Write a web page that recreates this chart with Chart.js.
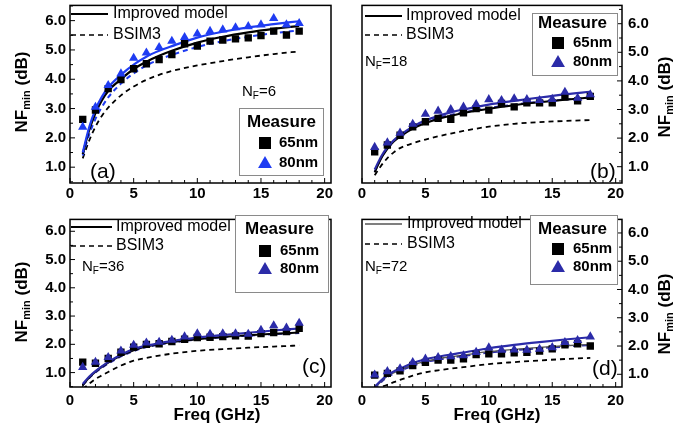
<!DOCTYPE html>
<html>
<head>
<meta charset="utf-8">
<script src="https://cdn.jsdelivr.net/npm/chart.js@4.4.0/dist/chart.umd.min.js"></script>
<style>
  body { margin: 0; background: #fff; }
  #wrap { position: relative; width: 690px; height: 428px; overflow: hidden; }
  .panel { position: absolute; width: 345px; height: 214px; }
</style>
</head>
<body>
<div id="wrap">
  <div class="panel" style="left:0;top:0"><canvas id="pa" width="345" height="214"></canvas></div>
  <div class="panel" style="left:345px;top:0"><canvas id="pb" width="345" height="214"></canvas></div>
  <div class="panel" style="left:0;top:214px"><canvas id="pc" width="345" height="214"></canvas></div>
  <div class="panel" style="left:345px;top:214px"><canvas id="pd" width="345" height="214"></canvas></div>
</div>
<script>
const FONT = '"Liberation Sans", Arial, sans-serif';

// measured frequencies (GHz) and the frequencies the model curves are read at
const freq = [1, 2, 3, 4, 5, 6, 7, 8, 9, 10, 11, 12, 13, 14, 15, 16, 17, 18];
const modelFreq = [1, 1.5, 2, 2.5, 3, 4, 5, 6, 7, 8, 10, 12, 14, 16, 18];

const xTicks = [0, 5, 10, 15, 20];
const yTicks = [1, 2, 3, 4, 5, 6];
const xMinor = [0, 1, 2, 3, 4, 5, 6, 7, 8, 9, 10, 11, 12, 13, 14, 15, 16, 17, 18, 19, 20];
const yMinor = [0.5, 1, 1.5, 2, 2.5, 3, 3.5, 4, 4.5, 5, 5.5, 6, 6.5];

// (a) NF=6
const measA65 = [2.63, 2.95, 3.68, 3.99, 4.36, 4.53, 4.67, 4.84, 5.21, 5.13, 5.30, 5.34, 5.38, 5.41, 5.49, 5.64, 5.51, 5.64];
const measA80 = [2.37, 3.05, 3.79, 4.19, 4.72, 4.90, 5.09, 5.30, 5.43, 5.55, 5.64, 5.69, 5.76, 5.80, 5.86, 6.08, 5.86, 5.91];
const imprA65 = [1.45, 2.25, 2.85, 3.28, 3.60, 4.00, 4.35, 4.60, 4.80, 4.97, 5.25, 5.45, 5.60, 5.72, 5.82];
const imprA80 = [1.50, 2.35, 2.97, 3.40, 3.72, 4.15, 4.50, 4.77, 4.97, 5.13, 5.42, 5.62, 5.77, 5.88, 5.98];
const bsimA65 = [1.30, 1.90, 2.38, 2.75, 3.03, 3.45, 3.75, 3.98, 4.15, 4.28, 4.47, 4.62, 4.75, 4.86, 4.95];
const bsimA80 = [1.40, 2.10, 2.65, 3.05, 3.38, 3.85, 4.20, 4.47, 4.67, 4.83, 5.10, 5.30, 5.45, 5.57, 5.67];

// (b) NF=18
const measB65 = [1.52, 1.76, 2.10, 2.39, 2.57, 2.69, 2.66, 2.88, 3.03, 2.98, 3.21, 3.09, 3.23, 3.23, 3.23, 3.44, 3.30, 3.46];
const measB80 = [1.68, 1.84, 2.18, 2.49, 2.84, 2.95, 3.00, 3.09, 3.18, 3.35, 3.32, 3.38, 3.35, 3.32, 3.36, 3.61, 3.40, 3.52];
const imprB65 = [0.80, 1.28, 1.62, 1.88, 2.05, 2.33, 2.53, 2.67, 2.78, 2.88, 3.03, 3.15, 3.25, 3.34, 3.42];
const imprB80 = [0.90, 1.35, 1.68, 1.92, 2.10, 2.40, 2.62, 2.77, 2.90, 3.00, 3.17, 3.30, 3.42, 3.53, 3.62];
const bsimB65 = [0.70, 1.03, 1.30, 1.50, 1.65, 1.82, 1.95, 2.06, 2.16, 2.25, 2.40, 2.50, 2.56, 2.60, 2.63];
const bsimB80 = [0.82, 1.30, 1.64, 1.90, 2.08, 2.37, 2.56, 2.70, 2.81, 2.90, 3.05, 3.17, 3.27, 3.35, 3.42];

// (c) NF=36
const measC65 = [1.37, 1.33, 1.50, 1.72, 1.90, 2.00, 2.02, 2.10, 2.18, 2.24, 2.25, 2.27, 2.30, 2.29, 2.38, 2.42, 2.45, 2.57];
const measC80 = [1.19, 1.37, 1.54, 1.77, 1.97, 2.05, 2.08, 2.15, 2.27, 2.38, 2.36, 2.38, 2.38, 2.36, 2.50, 2.66, 2.58, 2.75];
const imprC65 = [0.55, 0.82, 1.03, 1.20, 1.35, 1.60, 1.79, 1.92, 2.01, 2.08, 2.18, 2.26, 2.32, 2.37, 2.42];
const imprC80 = [0.60, 0.85, 1.05, 1.22, 1.37, 1.63, 1.83, 1.95, 2.04, 2.12, 2.24, 2.33, 2.41, 2.49, 2.56];
const bsimC65 = [0.42, 0.60, 0.77, 0.90, 1.02, 1.25, 1.42, 1.52, 1.60, 1.67, 1.77, 1.83, 1.88, 1.92, 1.96];
const bsimC80 = [0.55, 0.80, 1.00, 1.17, 1.32, 1.57, 1.76, 1.90, 1.99, 2.06, 2.17, 2.25, 2.31, 2.36, 2.40];

// (d) NF=72
const measD65 = [0.97, 1.03, 1.12, 1.31, 1.42, 1.50, 1.50, 1.55, 1.70, 1.72, 1.72, 1.76, 1.78, 1.82, 1.90, 2.04, 2.08, 2.00];
const measD80 = [0.98, 1.10, 1.20, 1.42, 1.54, 1.60, 1.63, 1.66, 1.78, 1.94, 1.86, 1.87, 1.86, 1.89, 1.95, 2.13, 2.20, 2.33];
const imprD65 = [0.50, 0.74, 0.93, 1.05, 1.15, 1.33, 1.46, 1.55, 1.62, 1.68, 1.80, 1.88, 1.95, 2.01, 2.06];
const imprD80 = [0.55, 0.78, 0.97, 1.10, 1.20, 1.40, 1.53, 1.62, 1.70, 1.77, 1.92, 2.04, 2.14, 2.23, 2.31];
const bsimD65 = [0.45, 0.55, 0.63, 0.72, 0.80, 0.95, 1.07, 1.14, 1.20, 1.25, 1.36, 1.43, 1.49, 1.54, 1.58];
const bsimD80 = [0.48, 0.72, 0.90, 1.02, 1.12, 1.30, 1.43, 1.52, 1.59, 1.65, 1.77, 1.85, 1.92, 1.98, 2.03];

const legendLabels = ['Improved model', 'BSIM3'];
const measureTitle = 'Measure';
const measureLabels = ['65nm', '80nm'];

// panel layout (local canvas px)
const panels = [
  { id: 'pa', nf: '6', letter: '(a)', blue: '#1f3cf2', solid65: '#000', solidW: 2.2,
    m65: measA65, m80: measA80, i65: imprA65, i80: imprA80, b65: bsimA65, b80: bsimA80,
    yMin: 0.46, yMax: 6.52, yPos: 'left', pad: { left: 0, right: 14, top: 5, bottom: 0 }, yW: 70, xH: 31, xPad: 2,
    leg: { x0: 71, x1: 108, tx: 113, y1: 14, y2: 35 }, nfAt: [242, 92],
    box: [239, 108, 84, 67], mTitle: [247, 122], mk: [265, 279, 143, 163], let: [90, 172],
    yTitle: [22, 92], xTitle: null },
  { id: 'pb', nf: '18', letter: '(b)', blue: '#2b2ba8', solid65: '#000', solidW: 2.0,
    m65: measB65, m80: measB80, i65: imprB65, i80: imprB80, b65: bsimB65, b80: bsimB80,
    yMin: 0.43, yMax: 6.64, yPos: 'right', pad: { left: 17, right: 0, top: 5, bottom: 0 }, yW: 68, xH: 31, xPad: 2,
    leg: { x0: 20, x1: 57, tx: 61, y1: 16, y2: 35 }, nfAt: [20, 62],
    box: [187, 13, 85, 62], mTitle: [193, 23], mk: [213, 228, 43, 62], let: [245, 172],
    yTitle: [320, 97], xTitle: null },
  { id: 'pc', nf: '36', letter: '(c)', blue: '#2b2ba8', solid65: '#000', solidW: 2.0,
    m65: measC65, m80: measC80, i65: imprC65, i80: imprC80, b65: bsimC65, b80: bsimC80,
    yMin: 0.49, yMax: 6.42, yPos: 'left', pad: { left: 0, right: 14, top: 1, bottom: 0 }, yW: 70, xH: 41, xPad: 5,
    leg: { x0: 71, x1: 112, tx: 116, y1: 13, y2: 32 }, nfAt: [82, 53],
    box: [235, 1, 93, 77], mTitle: [245, 15], mk: [265, 280, 37, 55], let: [302, 153],
    yTitle: [22, 88], xTitle: [217, 201] },
  { id: 'pd', nf: '72', letter: '(d)', blue: '#2b2ba8', solid65: '#555', solidW: 1.3,
    m65: measD65, m80: measD80, i65: imprD65, i80: imprD80, b65: bsimD65, b80: bsimD80,
    yMin: 0.55, yMax: 6.48, yPos: 'right', pad: { left: 17, right: 0, top: 1, bottom: 0 }, yW: 68, xH: 41, xPad: 5,
    leg: { x0: 20, x1: 57, tx: 62, y1: 10, y2: 30 }, nfAt: [20, 53],
    box: [185, 1, 87, 69], mTitle: [193, 15], mk: [213, 228, 35, 53], let: [247, 155],
    yTitle: [320, 100], xTitle: [152, 201] }
];

function pts(xs, ys) { return xs.map((x, i) => ({ x, y: ys[i] })); }

function drawParts(ctx, x, y, parts) {
  // parts: [text, font, dy]
  let cx = x;
  parts.forEach(([t, f, dy]) => { ctx.font = f; ctx.fillText(t, cx, y + dy); cx += ctx.measureText(t).width; });
}
function partsWidth(ctx, parts) {
  let w = 0;
  parts.forEach(([t, f]) => { ctx.font = f; w += ctx.measureText(t).width; });
  return w;
}
function marker(ctx, style, x, y, r, color) {
  ctx.fillStyle = color;
  ctx.beginPath();
  if (style === 'rect') {
    const s = r / Math.SQRT2;
    ctx.rect(x - s, y - s, 2 * s, 2 * s);
  } else {
    ctx.moveTo(x, y - r);
    ctx.lineTo(x + r * 0.866, y + r * 0.5);
    ctx.lineTo(x - r * 0.866, y + r * 0.5);
    ctx.closePath();
  }
  ctx.fill();
}

function decor(p) {
  return {
    id: 'decor',
    afterDraw(chart) {
      const ctx = chart.ctx, a = chart.chartArea;
      const xs = chart.scales.x, ys = chart.scales.y;
      ctx.save();
      ctx.strokeStyle = '#000';
      ctx.lineWidth = 1.5;
      ctx.strokeRect(a.left, a.top, a.right - a.left, a.bottom - a.top);

      ctx.lineWidth = 1;
      xMinor.forEach(v => {
        const px = xs.getPixelForValue(v);
        const len = xTicks.includes(v) ? 5 : 3;
        ctx.beginPath(); ctx.moveTo(px, a.bottom); ctx.lineTo(px, a.bottom - len); ctx.stroke();
      });
      const edge = p.yPos === 'left' ? a.left : a.right;
      const dir = p.yPos === 'left' ? 1 : -1;
      yMinor.forEach(v => {
        const py = ys.getPixelForValue(v);
        if (py < a.top || py > a.bottom) return;
        const len = yTicks.includes(v) ? 5 : 3;
        ctx.beginPath(); ctx.moveTo(edge, py); ctx.lineTo(edge + dir * len, py); ctx.stroke();
      });

      ctx.fillStyle = '#000';
      ctx.textBaseline = 'middle';
      ctx.textAlign = 'left';

      // model legend
      const L = p.leg;
      ctx.lineWidth = p.solidW;
      ctx.strokeStyle = p.solid65;
      ctx.beginPath(); ctx.moveTo(L.x0, L.y1); ctx.lineTo(L.x1, L.y1); ctx.stroke();
      ctx.strokeStyle = '#000';
      ctx.lineWidth = 1.6;
      ctx.setLineDash([5, 4]);
      ctx.beginPath(); ctx.moveTo(L.x0, L.y2); ctx.lineTo(L.x1, L.y2); ctx.stroke();
      ctx.setLineDash([]);
      ctx.font = '16px ' + FONT;
      ctx.fillText(legendLabels[0], L.tx, L.y1);
      ctx.fillText(legendLabels[1], L.tx, L.y2);

      // N_F label
      drawParts(ctx, p.nfAt[0], p.nfAt[1], [
        ['N', '15px ' + FONT, 0], ['F', '10px ' + FONT, 4], ['=' + p.nf, '15px ' + FONT, 0]
      ]);

      // measure box
      const [bx, by, bw, bh] = p.box;
      ctx.fillStyle = '#fff';
      ctx.fillRect(bx, by, bw, bh);
      ctx.strokeStyle = '#8a8a8a';
      ctx.lineWidth = 1;
      ctx.strokeRect(bx + 0.5, by + 0.5, bw, bh);
      ctx.fillStyle = '#000';
      ctx.font = 'bold 17px ' + FONT;
      ctx.fillText(measureTitle, p.mTitle[0], p.mTitle[1]);
      const [mx, tx, y65, y80] = p.mk;
      marker(ctx, 'rect', mx, y65, 8.5, '#000');
      marker(ctx, 'triangle', mx, y80 + 1, 8, p.blue);
      ctx.fillStyle = '#000';
      ctx.font = 'bold 15px ' + FONT;
      ctx.fillText(measureLabels[0], tx, y65);
      ctx.fillText(measureLabels[1], tx, y80);

      // panel letter
      ctx.font = '21px ' + FONT;
      ctx.fillText(p.letter, p.let[0], p.let[1]);

      // y title
      const tparts = [
        ['NF', 'bold 17px ' + FONT, 0], ['min', 'bold 11px ' + FONT, 5], [' (dB)', 'bold 17px ' + FONT, 0]
      ];
      const w = partsWidth(ctx, tparts);
      ctx.save();
      ctx.translate(p.yTitle[0], p.yTitle[1]);
      ctx.rotate(-Math.PI / 2);
      drawParts(ctx, -w / 2, 0, tparts);
      ctx.restore();

      if (p.xTitle) {
        ctx.font = 'bold 17px ' + FONT;
        ctx.textAlign = 'center';
        ctx.fillText('Freq (GHz)', p.xTitle[0], p.xTitle[1]);
      }
      ctx.restore();
    }
  };
}

panels.forEach(p => {
  const lineDs = (data, color, dashed, width) => ({
    type: 'line', data: pts(modelFreq, data), borderColor: color, borderWidth: width,
    borderDash: dashed ? [5, 4] : [], pointRadius: 0, fill: false,
    cubicInterpolationMode: 'monotone'
  });
  new Chart(document.getElementById(p.id), {
    type: 'line',
    data: {
      datasets: [
        { type: 'scatter', data: pts(freq, p.m80), pointStyle: 'triangle', pointRadius: 5.4,
          backgroundColor: p.blue, borderColor: p.blue, borderWidth: 0, showLine: false },
        { type: 'scatter', data: pts(freq, p.m65), pointStyle: 'rect', pointRadius: 5.2,
          backgroundColor: '#000', borderColor: '#000', borderWidth: 0, showLine: false },
        lineDs(p.i80, p.blue, false, 2.2),
        lineDs(p.i65, p.solid65, false, p.solidW),
        lineDs(p.b80, p.blue, true, 2),
        lineDs(p.b65, '#000', true, 1.8)
      ]
    },
    options: {
      responsive: false,
      animation: false,
      layout: { padding: p.pad },
      plugins: { legend: { display: false }, tooltip: { enabled: false } },
      scales: {
        x: {
          type: 'linear', position: 'bottom', min: 0, max: 20.5,
          afterBuildTicks: s => { s.ticks = xTicks.map(v => ({ value: v })); },
          afterFit: s => { s.height = p.xH; s.paddingLeft = 0; s.paddingRight = 0; },
          grid: { display: false, drawTicks: false }, border: { display: false },
          ticks: { font: { family: FONT, size: 15, weight: 'bold' }, color: '#000', padding: p.xPad,
                   maxRotation: 0, autoSkip: false, callback: v => String(v) }
        },
        y: {
          type: 'linear', position: p.yPos, min: p.yMin, max: p.yMax,
          afterBuildTicks: s => { s.ticks = yTicks.map(v => ({ value: v })); },
          afterFit: s => { s.width = p.yW; s.paddingTop = 0; s.paddingBottom = 0; },
          grid: { display: false, drawTicks: false }, border: { display: false },
          ticks: { font: { family: FONT, size: 15, weight: 'bold' }, color: '#000',
                   padding: p.yPos === 'left' ? 4 : 6, callback: v => Number(v).toFixed(1) }
        }
      }
    },
    plugins: [decor(p)]
  });
});
</script>
</body>
</html>
